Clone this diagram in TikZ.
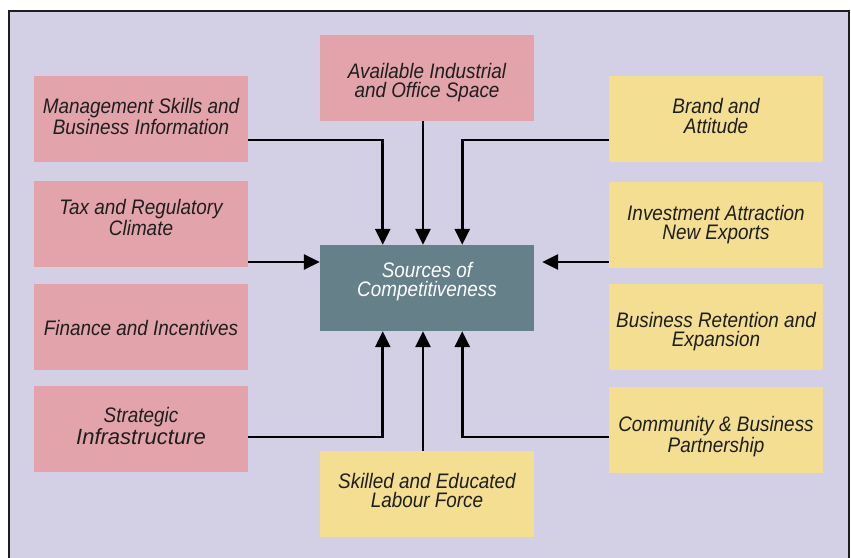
\documentclass[tikz,border=0pt]{standalone}
\usepackage{fontspec}
\setmainfont{Liberation Sans}
\newfontfamily\narrowfont{Liberation Sans}[FakeStretch=0.9]
\newfontfamily\widefont{Liberation Sans}
\usetikzlibrary{arrows.meta}
\definecolor{BG}{RGB}{211,208,229}
\definecolor{LR}{RGB}{226,164,170}
\definecolor{LY}{RGB}{243,222,145}
\definecolor{DT}{RGB}{102,128,138}
\definecolor{DG}{RGB}{30,30,30}

\begin{document}
\begin{tikzpicture}[x=1pt, y=-1pt,
  box/.style={minimum width=214pt, minimum height=86pt, inner sep=0pt,
    align=center, text=DG, font=\narrowfont\itshape\fontsize{21}{19.5}\selectfont},
  lift/.style={text height=#1, text depth=20pt},
  redbox/.style={box, fill=LR},
  yellowbox/.style={box, fill=LY},
  hub/.style={box, fill=DT, text=white},
  link/.style={draw=black, line width=2.8pt, -{Triangle[length=16pt,width=15pt]}}]
\useasboundingbox (0,0) rectangle (851,557);

% Frame
\filldraw[fill=BG, draw=DG, line width=1.2pt] (9,11) rectangle (849,590);

% Left column
\node[redbox, lift=51pt] (mgmt)  at (141,119) {Management Skills and\\Business Information};
\node[redbox, lift=42pt] (tax)   at (141,224) {Tax and Regulatory\\Climate};
\node[redbox, lift=36pt] (fin)   at (141,327) {Finance and Incentives};
\node[redbox, lift=50pt] (strat) at (141,429) {Strategic\\{\widefont\itshape\fontsize{22}{20}\selectfont Infrastructure}};

% Middle column
\node[redbox, lift=59pt]    (space)  at (427,78)  {Available Industrial\\and Office Space};
\node[hub, lift=37pt]       (src)    at (427,288) {Sources of\\Competitiveness};
\node[yellowbox, lift=47pt] (labour) at (427,494) {Skilled and Educated\\Labour Force};

% Right column
\node[yellowbox, lift=48pt] (brand)  at (716,119) {Brand and\\Attitude};
\node[yellowbox, lift=49pt] (invest) at (716,225) {Investment Attraction\\New Exports};
\node[yellowbox, lift=59pt] (retain) at (716,327) {Business Retention and\\Expansion};
\node[yellowbox, lift=65pt] (comm)   at (716,430) {Community \& Business\\Partnership};

% Arrows into the hub
\coordinate (taxout) at ([yshift=-38pt]tax.east);
\coordinate (invout) at ([yshift=-37pt]invest.west);
\draw[link] ([yshift=-21pt]mgmt.east) -| ([xshift=63pt]src.north west);
\draw[link] ([xshift=-4pt]space.south) -- ([xshift=-4pt]src.north);
\draw[link] ([yshift=-21pt]brand.west) -| ([xshift=-72pt]src.north east);
\draw[link] (taxout) -- (taxout -| src.west);
\draw[link, shorten >=8pt] (invout) -- (invout -| src.east);
\draw[link] ([yshift=-8pt]strat.east) -| ([xshift=63pt]src.south west);
\draw[link] ([xshift=-4pt]labour.north) -- ([xshift=-4pt]src.south);
\draw[link] ([yshift=-7pt]comm.west) -| ([xshift=-72pt]src.south east);
\end{tikzpicture}
\end{document}
